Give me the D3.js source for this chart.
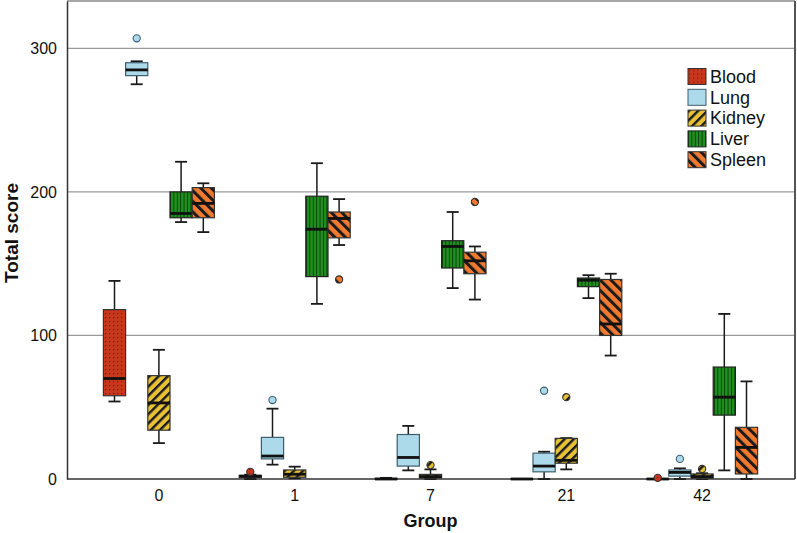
<!DOCTYPE html>
<html>
<head>
<meta charset="utf-8">
<script src="https://cdn.jsdelivr.net/npm/d3@7"></script>
<style>
  body { margin: 0; background: #fff; }
  svg { display: block; font-family: Arial, "Liberation Sans", sans-serif; }
</style>
</head>
<body>
<div id="chart"></div>
<script>
const groups = ['0', '1', '7', '21', '42'];
const organs = ['Blood', 'Lung', 'Kidney', 'Liver', 'Spleen'];
const yTicks = [0, 100, 200, 300];

// five-number summaries per group: [min, q1, median, q3, max]
const bloodStats = [[54, 58, 70, 118, 138], [0, 1, 2, 2.5, 3], [0, 0, 0, 0.4, 0.8], [0, 0, 0, 0, 0], [0, 0, 0, 0, 0]];
const lungStats = [[275, 281, 285, 290, 291], [10, 14, 16, 29, 49], [6, 9, 15, 31, 37], [0, 5, 9, 18, 19], [0, 2, 4.6, 6.3, 7.4]];
const kidneyStats = [[25, 34, 53, 72, 90], [0.5, 1.2, 3.3, 6.3, 8.6], [0, 0.7, 1.7, 3.2, 6.7], [6.7, 11, 13, 28.3, 28.5], [0, 0.5, 1.7, 3.5, 4]];
const liverStats = [[179, 182, 185, 200, 221], [122, 141, 174, 197, 220], [133, 147, 162, 166, 186], [126, 134, 138.5, 140, 142], [6, 44.5, 57, 78, 115]];
const spleenStats = [[172, 182, 192, 203, 206], [163, 168, 181.5, 186, 195], [125, 143, 152, 158, 162], [86, 100, 108, 139, 143], [0, 3.5, 22, 36, 68]];

// outliers per group
const bloodOut = [[], [5], [], [], [0.8]];
const lungOut = [[307], [55], [], [61.5], [14]];
const kidneyOut = [[], [], [9.7], [57], [7]];
const liverOut = [[], [], [], [], []];
const spleenOut = [[], [139], [193], [], []];

const statsByOrgan = { Blood: bloodStats, Lung: lungStats, Kidney: kidneyStats, Liver: liverStats, Spleen: spleenStats };
const outByOrgan = { Blood: bloodOut, Lung: lungOut, Kidney: kidneyOut, Liver: liverOut, Spleen: spleenOut };

const width = 797;
const height = 533;
const plot = { left: 67, right: 795, top: 1, bottom: 479 };

const svg = d3.select('#chart').append('svg')
  .attr('width', width)
  .attr('height', height);

// fill patterns
const defs = svg.append('defs');

const pBlood = defs.append('pattern').attr('id', 'p-Blood')
  .attr('patternUnits', 'userSpaceOnUse').attr('width', 4).attr('height', 4);
pBlood.append('rect').attr('width', 4).attr('height', 4).attr('fill', '#c8361c');
pBlood.append('rect').attr('x', 1).attr('y', 1).attr('width', 1.2).attr('height', 1.2).attr('fill', '#7e1c0c');

const pLung = defs.append('pattern').attr('id', 'p-Lung')
  .attr('patternUnits', 'userSpaceOnUse').attr('width', 4).attr('height', 4);
pLung.append('rect').attr('width', 4).attr('height', 4).attr('fill', '#addaea');

const pKidney = defs.append('pattern').attr('id', 'p-Kidney')
  .attr('patternUnits', 'userSpaceOnUse').attr('width', 6.5).attr('height', 6.5)
  .attr('patternTransform', 'rotate(45)');
pKidney.append('rect').attr('width', 6.5).attr('height', 6.5).attr('fill', '#e8c234');
pKidney.append('rect').attr('width', 2.4).attr('height', 6.5).attr('fill', '#1a1a1a');

const pLiver = defs.append('pattern').attr('id', 'p-Liver')
  .attr('patternUnits', 'userSpaceOnUse').attr('width', 3.4).attr('height', 4);
pLiver.append('rect').attr('width', 3.4).attr('height', 4).attr('fill', '#1f8f1f');
pLiver.append('rect').attr('width', 0.9).attr('height', 4).attr('fill', '#0d3a0d');

const pSpleen = defs.append('pattern').attr('id', 'p-Spleen')
  .attr('patternUnits', 'userSpaceOnUse').attr('width', 7.5).attr('height', 7.5)
  .attr('patternTransform', 'rotate(-45)');
pSpleen.append('rect').attr('width', 7.5).attr('height', 7.5).attr('fill', '#f07a30');
pSpleen.append('rect').attr('width', 3).attr('height', 7.5).attr('fill', '#1a1a1a');

const strokeOf = { Blood: '#333', Lung: '#3d5e6e', Kidney: '#333', Liver: '#222', Spleen: '#333' };

const x = d3.scaleBand().domain(groups).range([91, 770]).padding(0);
const inner = d3.scaleBand().domain(organs).range([-55.5, 55.5]).padding(0);
const y = d3.scaleLinear().domain([0, 333]).range([plot.bottom, plot.top]);

// gridlines
svg.append('g')
  .selectAll('line')
  .data(yTicks.filter(d => d > 0))
  .join('line')
  .attr('x1', plot.left).attr('x2', plot.right)
  .attr('y1', d => y(d)).attr('y2', d => y(d))
  .attr('stroke', '#9a9a9a').attr('stroke-width', 1.2);

// frame
svg.append('line').attr('x1', plot.left).attr('x2', plot.right).attr('y1', plot.top).attr('y2', plot.top)
  .attr('stroke', '#8a8a8a').attr('stroke-width', 1.5);
svg.append('line').attr('x1', plot.right).attr('x2', plot.right).attr('y1', plot.top).attr('y2', plot.bottom)
  .attr('stroke', '#555').attr('stroke-width', 2);

// axes
const yAxis = d3.axisLeft(y).tickValues(yTicks).tickSize(0).tickPadding(10);
const gy = svg.append('g').attr('transform', `translate(${plot.left},0)`).call(yAxis);
gy.select('.domain').attr('stroke', '#333').attr('stroke-width', 1.5);
gy.selectAll('text').attr('font-size', 16).attr('fill', '#111')
  .attr('font-family', 'Arial, "Liberation Sans", sans-serif');

const xAxis = d3.axisBottom(x).tickSize(0).tickPadding(11);
const gx = svg.append('g').attr('transform', `translate(0,${plot.bottom})`).call(xAxis);
gx.select('.domain').remove();
svg.append('line').attr('x1', plot.left).attr('x2', plot.right).attr('y1', plot.bottom).attr('y2', plot.bottom)
  .attr('stroke', '#333').attr('stroke-width', 1.5);
gx.selectAll('text').attr('font-size', 16).attr('fill', '#111')
  .attr('font-family', 'Arial, "Liberation Sans", sans-serif');

svg.append('text')
  .attr('x', x('7') + x.bandwidth() / 2).attr('y', 527)
  .attr('text-anchor', 'middle')
  .attr('font-size', 18).attr('font-weight', 'bold').attr('fill', '#111')
  .text('Group');

svg.append('text')
  .attr('transform', `translate(18,${233}) rotate(-90)`)
  .attr('text-anchor', 'middle')
  .attr('font-size', 19).attr('font-weight', 'bold').attr('fill', '#111')
  .text('Total score');

// boxes
const boxes = [];
organs.forEach(organ => {
  groups.forEach((g, i) => {
    const [min, q1, med, q3, max] = statsByOrgan[organ][i];
    boxes.push({ organ, group: g, min, q1, med, q3, max, out: outByOrgan[organ][i] });
  });
});

const bw = inner.bandwidth();
const cx = d => x(d.group) + x.bandwidth() / 2 + inner(d.organ) + bw / 2;

const box = svg.append('g').attr('class', 'boxes')
  .selectAll('g')
  .data(boxes)
  .join('g');

// whiskers
box.append('line')
  .attr('x1', cx).attr('x2', cx)
  .attr('y1', d => y(d.max)).attr('y2', d => y(d.q3))
  .attr('stroke', '#1a1a1a').attr('stroke-width', 1.5);
box.append('line')
  .attr('x1', cx).attr('x2', cx)
  .attr('y1', d => y(d.q1)).attr('y2', d => y(d.min))
  .attr('stroke', '#1a1a1a').attr('stroke-width', 1.5);
box.append('line')
  .attr('x1', d => cx(d) - 6).attr('x2', d => cx(d) + 6)
  .attr('y1', d => y(d.max)).attr('y2', d => y(d.max))
  .attr('stroke', '#1a1a1a').attr('stroke-width', 1.8);
box.append('line')
  .attr('x1', d => cx(d) - 6).attr('x2', d => cx(d) + 6)
  .attr('y1', d => y(d.min)).attr('y2', d => y(d.min))
  .attr('stroke', '#1a1a1a').attr('stroke-width', 1.8);

box.append('rect')
  .attr('x', d => cx(d) - bw / 2)
  .attr('width', bw)
  .attr('y', d => y(d.q3))
  .attr('height', d => Math.max(0.01, y(d.q1) - y(d.q3)))
  .attr('fill', d => `url(#p-${d.organ})`)
  .attr('stroke', d => strokeOf[d.organ])
  .attr('stroke-width', 1.2);

box.append('line')
  .attr('x1', d => cx(d) - bw / 2).attr('x2', d => cx(d) + bw / 2)
  .attr('y1', d => y(d.med)).attr('y2', d => y(d.med))
  .attr('stroke', '#111').attr('stroke-width', 2.8);

// outliers
box.selectAll('circle')
  .data(d => d.out.map(v => ({ organ: d.organ, group: d.group, v })))
  .join('circle')
  .attr('cx', cx)
  .attr('cy', d => y(d.v))
  .attr('r', 3.6)
  .attr('fill', d => `url(#p-${d.organ})`)
  .attr('stroke', d => strokeOf[d.organ])
  .attr('stroke-width', 1.1);

// legend
const legend = svg.append('g').attr('transform', 'translate(688,68.5)')
  .selectAll('g')
  .data(organs)
  .join('g')
  .attr('transform', (d, i) => `translate(0,${i * 20.8})`);

legend.append('rect')
  .attr('width', 18).attr('height', 16)
  .attr('fill', d => `url(#p-${d})`)
  .attr('stroke', d => strokeOf[d]).attr('stroke-width', 1);

legend.append('text')
  .attr('x', 22).attr('y', 8).attr('dy', '0.35em')
  .attr('font-size', 18).attr('fill', '#111')
  .text(d => d);
</script>
</body>
</html>
